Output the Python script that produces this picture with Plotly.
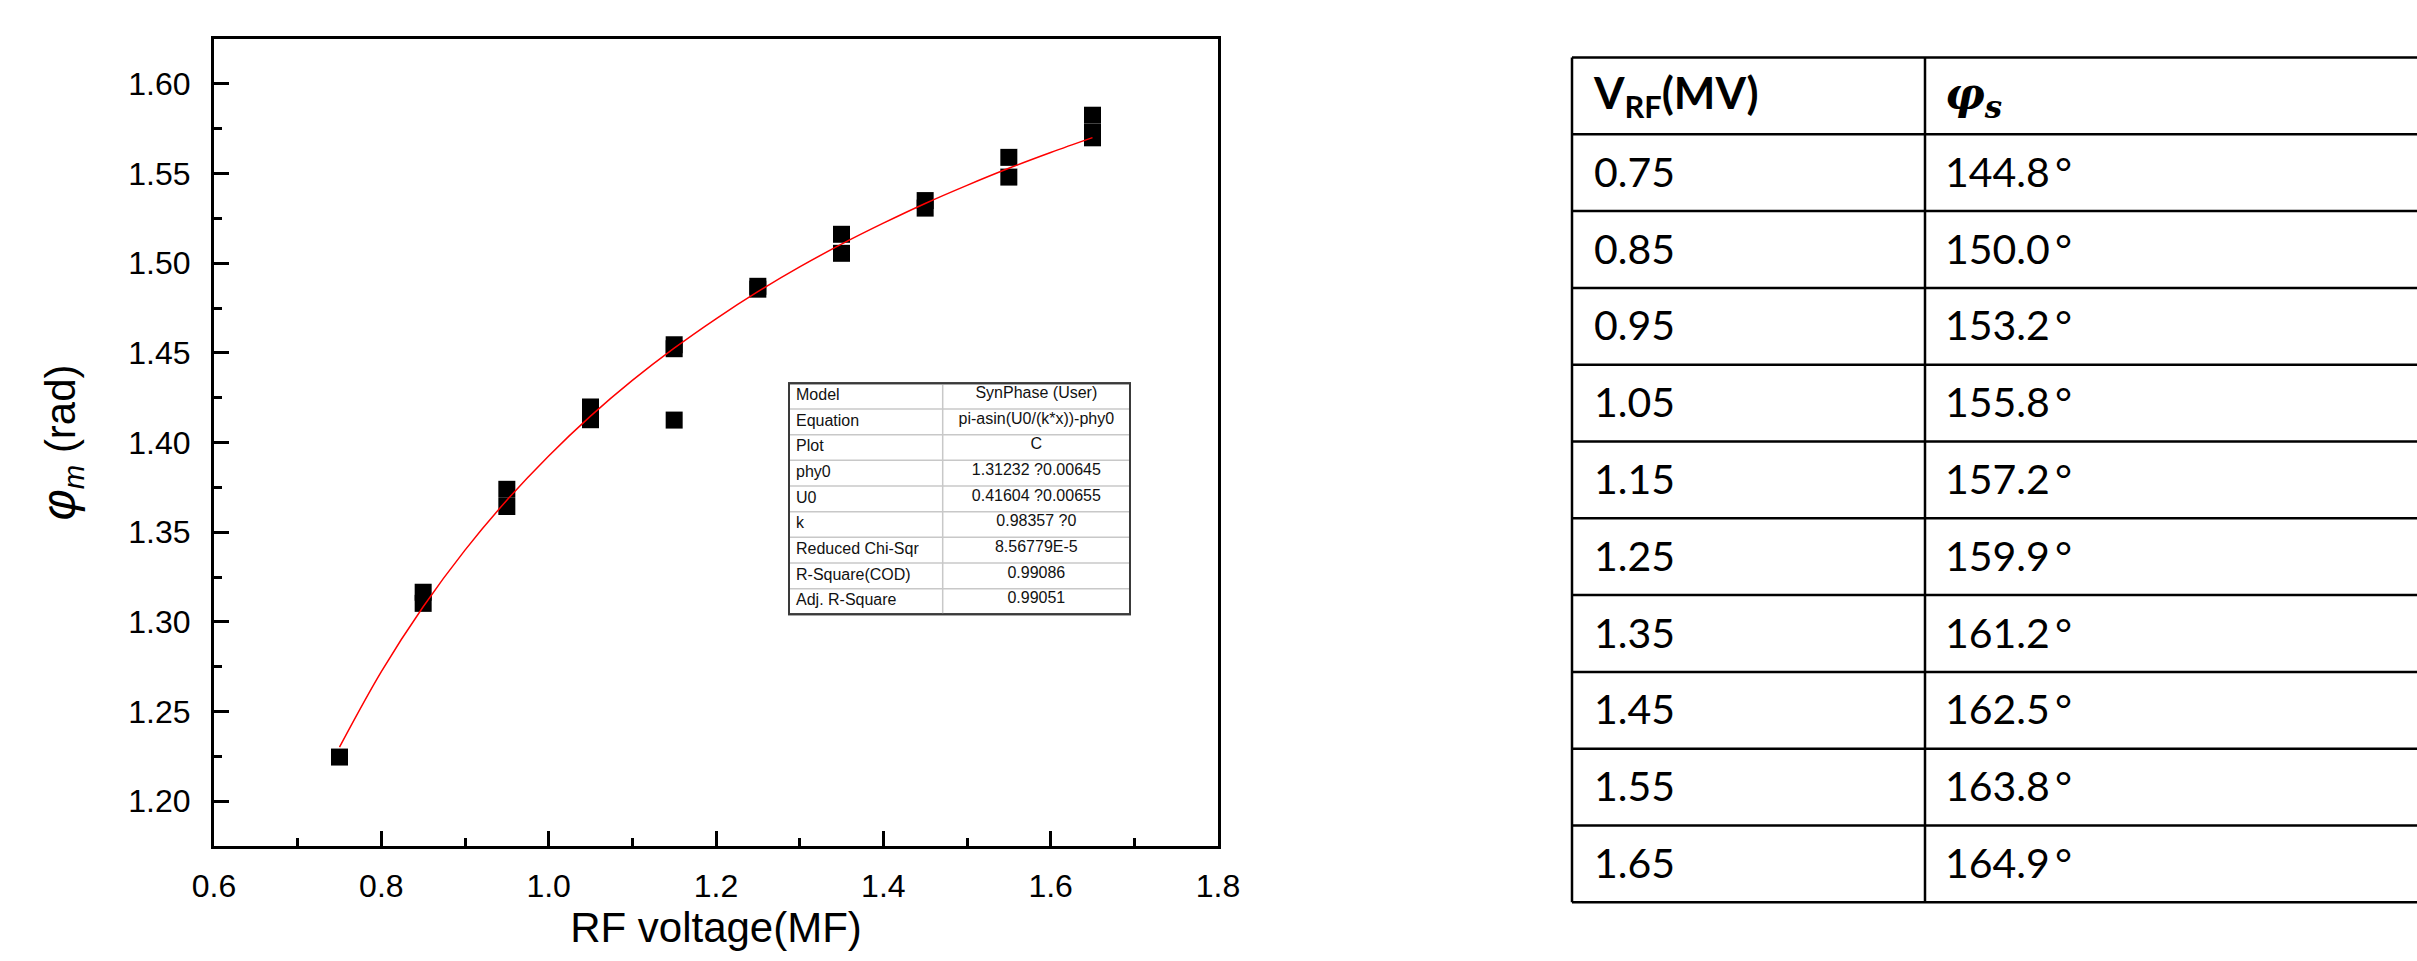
import plotly.graph_objects as go

# ---------------- data ----------------
# measured synchronous-phase points (RF voltage, phase in rad)
meas_x = [0.75, 0.85, 0.85, 0.95, 0.95, 1.05, 1.05, 1.15, 1.15, 1.15,
          1.25, 1.25, 1.35, 1.35, 1.45, 1.45, 1.55, 1.55, 1.65, 1.65, 1.65]
meas_y = [1.2246, 1.3165, 1.3103, 1.3739, 1.3643, 1.4198, 1.4127, 1.4545, 1.4523, 1.4125,
          1.4871, 1.4855, 1.5161, 1.5055, 1.5349, 1.5307, 1.5590, 1.5480, 1.5825, 1.5729, 1.5699]

# fitted curve
fit_x = [0.75, 0.80, 0.85, 0.90, 0.95, 1.00, 1.05, 1.10, 1.15, 1.20,
         1.25, 1.30, 1.35, 1.40, 1.45, 1.50, 1.55, 1.60, 1.65]
fit_y = [1.2301, 1.2722, 1.3084, 1.3400, 1.3678, 1.3925, 1.4147, 1.4346, 1.4526, 1.4690,
         1.4841, 1.4979, 1.5106, 1.5223, 1.5333, 1.5434, 1.5529, 1.5617, 1.5700]

# fit statistics box
stat_labels = ["Model", "Equation", "Plot", "phy0", "U0", "k",
               "Reduced Chi-Sqr", "R-Square(COD)", "Adj. R-Square"]
stat_values = ["SynPhase (User)", "pi-asin(U0/(k*x))-phy0", "C", "1.31232 ?0.00645",
               "0.41604 ?0.00655", "0.98357 ?0", "8.56779E-5", "0.99086", "0.99051"]

# table on the right
table_header = ["<b>V<sub>RF</sub>(MV)</b>",
                "<span style='font-family:DejaVu Serif'><b><i>φ<sub>s</sub></i></b></span>"]
vrf_mv = [0.75, 0.85, 0.95, 1.05, 1.15, 1.25, 1.35, 1.45, 1.55, 1.65]
phi_s_deg = [144.8, 150.0, 153.2, 155.8, 157.2, 159.9, 161.2, 162.5, 163.8, 164.9]

x_ticks = [0.6, 0.8, 1.0, 1.2, 1.4, 1.6, 1.8]
y_ticks = [1.20, 1.25, 1.30, 1.35, 1.40, 1.45, 1.50, 1.55, 1.60]

# ---------------- geometry (pixels) ----------------
W, H = 2417, 961
PLOT_L, PLOT_R, PLOT_T, PLOT_B = 214, 1218, 39, 846

TBL_L, TBL_T, TBL_ROW = 1572, 57.5, 76.8
TBL_COLS = [353, 492]
TBL_PAD = [22, 20]

SB_L, SB_T, SB_W, SB_ROW, SB_DIV = 789, 383.3, 341, 25.67, 153.7


def dom_x(a, b):
    return [a / W, min(b / W, 1.0)]


def dom_y(top, bottom):
    return [1 - bottom / H, 1 - top / H]


n_tbl_rows = len(vrf_mv) + 1
n_sb_rows = len(stat_labels)

fig = go.Figure()

# ---------------- main plot ----------------
fig.add_trace(go.Scatter(
    x=meas_x, y=meas_y, mode="markers",
    marker=dict(symbol="square", size=17, color="black", line=dict(width=0)),
    xaxis="x", yaxis="y", showlegend=False, hoverinfo="x+y"))
fig.add_trace(go.Scatter(
    x=fit_x, y=fit_y, mode="lines",
    line=dict(color="#ff0000", width=1.5, shape="spline"),
    xaxis="x", yaxis="y", showlegend=False))

axis_font = dict(family="Liberation Sans, Arial, sans-serif", size=32, color="black")
title_font = dict(family="Liberation Sans, Arial, sans-serif", size=42, color="black")

common_axis = dict(
    showline=True, linewidth=3, linecolor="black", mirror=True,
    ticks="inside", ticklen=15, tickwidth=3, tickcolor="black",
    showgrid=False, zeroline=False, tickfont=axis_font, automargin=False,
)

fig.update_layout(
    xaxis=dict(
        domain=dom_x(PLOT_L, PLOT_R), range=[0.6, 1.8],
        tickmode="array", tickvals=x_ticks, ticktext=[f"{v:.1f}" for v in x_ticks],
        minor=dict(ticks="inside", ticklen=8, tickwidth=3, tickcolor="black",
                   dtick=0.1, tick0=0.6, showgrid=False),
        ticklabelstandoff=10,
        title=dict(text="RF voltage(MF)", font=title_font, standoff=8),
        anchor="y", **common_axis),
    yaxis=dict(
        domain=dom_y(PLOT_T, PLOT_B), range=[1.175, 1.625],
        tickmode="array", tickvals=y_ticks, ticktext=[f"{v:.2f}" for v in y_ticks],
        minor=dict(ticks="inside", ticklen=8, tickwidth=3, tickcolor="black",
                   dtick=0.025, tick0=1.175, showgrid=False),
        ticklabelstandoff=14,
        title=dict(text="<span style='font-size:48px'><i>φ</i></span><sub><i>m</i></sub> (rad)",
                   font=title_font, standoff=40),
        anchor="x", **common_axis),
)

# ---------------- fit statistics box (inset axes x3/y3) ----------------
fig.update_layout(
    xaxis3=dict(domain=dom_x(SB_L - 5, SB_L + SB_W + 5), range=[-5, SB_W + 5],
                visible=False, anchor="y3", fixedrange=True, automargin=False),
    yaxis3=dict(domain=dom_y(SB_T - 0.2 * SB_ROW, SB_T + (n_sb_rows + 0.2) * SB_ROW),
                range=[n_sb_rows - 0.5 + 0.2, -0.5 - 0.2],
                visible=False, anchor="x3", fixedrange=True, automargin=False),
)
shapes = []
shapes.append(dict(type="rect", xref="x3", yref="y3", x0=0, x1=SB_W,
                   y0=-0.5, y1=n_sb_rows - 0.5, fillcolor="white",
                   line=dict(color="#3a3a3a", width=2), layer="below"))
for i in range(1, n_sb_rows):
    shapes.append(dict(type="line", xref="x3", yref="y3", x0=1, x1=SB_W - 1,
                       y0=i - 0.5, y1=i - 0.5, line=dict(color="#c8c8c8", width=1.5)))
shapes.append(dict(type="line", xref="x3", yref="y3", x0=SB_DIV, x1=SB_DIV,
                   y0=-0.5, y1=n_sb_rows - 0.5, line=dict(color="#c8c8c8", width=1.5)))
shapes.append(dict(type="rect", xref="x3", yref="y3", x0=0, x1=SB_W,
                   y0=-0.5, y1=n_sb_rows - 0.5,
                   line=dict(color="#3a3a3a", width=2)))

sb_font = dict(family="Liberation Sans, Arial, sans-serif", size=16, color="#111111")
fig.add_trace(go.Scatter(
    x=[7] * n_sb_rows, y=list(range(n_sb_rows)), text=stat_labels,
    mode="text", textposition="middle right", textfont=sb_font,
    xaxis="x3", yaxis="y3", showlegend=False, hoverinfo="skip", cliponaxis=False))
fig.add_trace(go.Scatter(
    x=[(SB_DIV + SB_W) / 2] * n_sb_rows, y=[r - 0.08 for r in range(n_sb_rows)],
    text=stat_values,
    mode="text", textposition="middle center", textfont=sb_font,
    xaxis="x3", yaxis="y3", showlegend=False, hoverinfo="skip", cliponaxis=False))

# ---------------- table (axes x2/y2) ----------------
fig.update_layout(
    xaxis2=dict(domain=dom_x(TBL_L - 10, W), range=[-10, W - TBL_L],
                visible=False, anchor="y2", fixedrange=True, automargin=False),
    yaxis2=dict(domain=dom_y(TBL_T - 0.1 * TBL_ROW, TBL_T + (n_tbl_rows + 0.1) * TBL_ROW),
                range=[n_tbl_rows - 0.5 + 0.1, -0.5 - 0.1],
                visible=False, anchor="x2", fixedrange=True, automargin=False),
)
for i in range(n_tbl_rows + 1):
    shapes.append(dict(type="line", xref="x2", yref="y2", x0=0, x1=W - TBL_L + 5,
                       y0=i - 0.5, y1=i - 0.5, line=dict(color="black", width=2.5)))
col_edges = [0, TBL_COLS[0]]
for xe in col_edges:
    shapes.append(dict(type="line", xref="x2", yref="y2", x0=xe, x1=xe,
                       y0=-0.5, y1=n_tbl_rows - 0.5, line=dict(color="black", width=2.5)))

tbl_font = dict(family="Lato, Carlito, sans-serif", size=41, color="black")
hdr_font = dict(family="Lato, Carlito, sans-serif", size=44, color="black")
col_x = [TBL_PAD[0], TBL_COLS[0] + TBL_PAD[1]]

fig.add_trace(go.Scatter(
    x=col_x, y=[0.03, 0.03], text=table_header, mode="text",
    textposition="middle right", textfont=hdr_font,
    xaxis="x2", yaxis="y2", showlegend=False, hoverinfo="skip", cliponaxis=False))
fig.add_trace(go.Scatter(
    x=[col_x[0]] * len(vrf_mv), y=[r + 1.05 for r in range(len(vrf_mv))],
    text=[f"{v:.2f}" for v in vrf_mv], mode="text",
    textposition="middle right", textfont=tbl_font,
    xaxis="x2", yaxis="y2", showlegend=False, hoverinfo="skip", cliponaxis=False))
fig.add_trace(go.Scatter(
    x=[col_x[1]] * len(phi_s_deg), y=[r + 1.05 for r in range(len(phi_s_deg))],
    text=[f"{p:.1f}\u2009°" for p in phi_s_deg], mode="text",
    textposition="middle right", textfont=tbl_font,
    xaxis="x2", yaxis="y2", showlegend=False, hoverinfo="skip", cliponaxis=False))

fig.update_layout(
    width=W, height=H,
    margin=dict(l=0, r=0, t=0, b=0, autoexpand=False),
    paper_bgcolor="white", plot_bgcolor="white",
    shapes=shapes, showlegend=False,
)

fig.write_html(
    "out.html",
    config={"displayModeBar": False},
    post_script="document.body.style.margin='0px';document.body.style.overflow='hidden';",
)
